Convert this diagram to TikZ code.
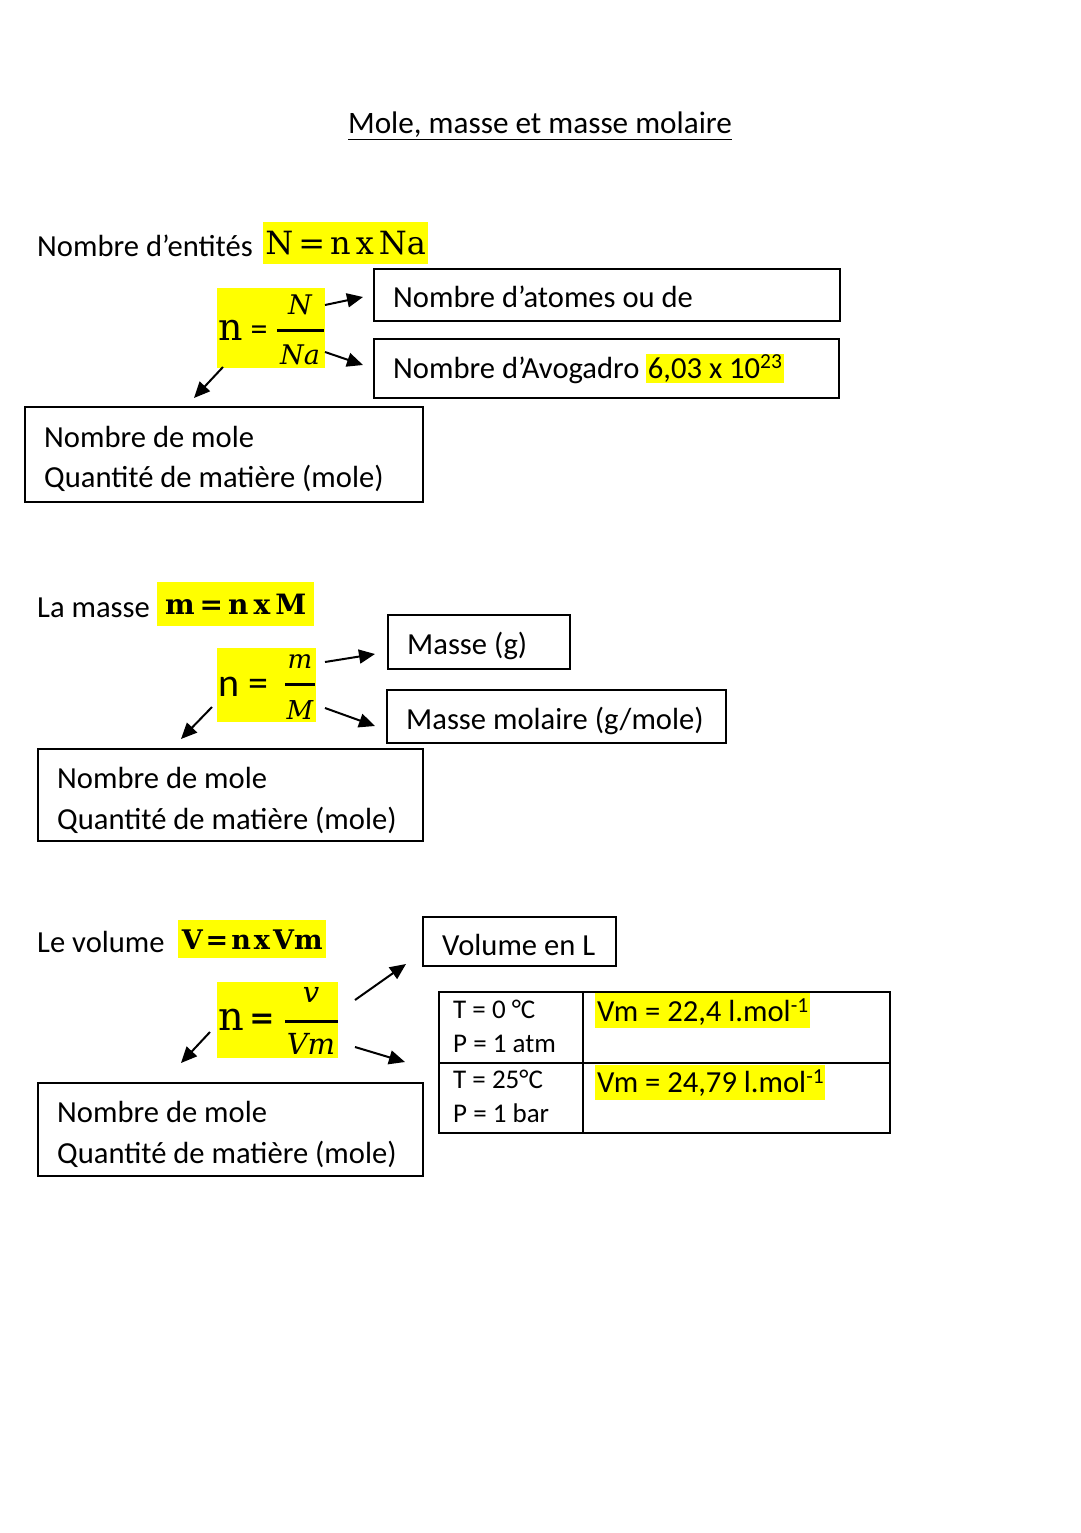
\documentclass[tikz,border=0pt]{standalone}
\usepackage{fontspec}
\setmainfont{Carlito}
\newfontfamily\fml{DejaVu Serif}
\usetikzlibrary{arrows.meta}
\definecolor{hly}{HTML}{FFFF00}
\tikzset{
  txt/.style={font=\fontsize{30.6}{40}\selectfont, inner sep=0pt, align=left},
  tbl/.style={font=\fontsize{27}{34}\selectfont, inner sep=0pt, align=left},
  boxed/.style={draw, line width=2pt, anchor=north west, inner sep=0pt},
  hlbox/.style={fill=hly, inner sep=0pt, anchor=north west},
  cell/.style={draw, line width=2pt, anchor=north west, inner sep=0pt},
  arr/.style={line width=2pt, -{Triangle[length=16pt,width=14pt]}},
  frm/.style={inner sep=0pt},
}
\begin{document}
\begin{tikzpicture}[x=1pt,y=-1pt]
\useasboundingbox (0,0) rectangle (1080,1533);

% title
\node[txt, font=\fontsize{31.2}{38}\selectfont] (title) at (540,126) {\underline{Mole, masse et masse molaire}};

%%%%%%%% Section 1
\node[txt, anchor=base west] (l1) at (37,256) {Nombre d’entités};
\node[hlbox, minimum width=165pt, minimum height=42pt] (h1) at (263,222) {};
\node[frm, font=\fml\fontsize{32}{32}\selectfont] (h1t) at (h1.center) {N\hspace{5pt}=\hspace{5pt}n\hspace{5pt}x\hspace{5pt}Na};

\node[hlbox, minimum width=108pt, minimum height=80pt] (f1) at (217,288) {};
\node[frm, anchor=west, font=\fml\fontsize{38}{38}\selectfont] (f1n) at (218,330) {n};
\node[frm, font=\fontsize{34}{34}\selectfont] (f1e) at (259,333) {=};
\node[frm, font=\fml\itshape\fontsize{27}{27}\selectfont] (f1a) at (300,305) {N};
\node[frm, font=\fml\itshape\fontsize{27}{27}\selectfont] (f1b) at (300,355) {Na};
\draw[line width=3pt] (277,330) -- (324,330);

\node[boxed, minimum width=466pt, minimum height=52pt] (b1) at (373,268) {};
\node[txt, anchor=west] (b1t) at ([xshift=20pt,yshift=-2pt]b1.west) {Nombre d’atomes ou de};
\node[boxed, minimum width=465pt, minimum height=59pt] (b2) at (373,338) {};
\node[txt, anchor=west] (b2t) at ([xshift=20pt]b2.west)
  {Nombre d’Avogadro {\setlength\fboxsep{1.5pt}\colorbox{hly}{6,03 x 10\textsuperscript{23}}}};
\node[boxed, minimum width=398pt, minimum height=95pt] (b3) at (24,406) {};
\node[txt, anchor=west] (b3t) at ([xshift=20pt,yshift=-4pt]b3.west) {Nombre de mole\\Quantité de matière (mole)};

\coordinate (a1s) at (325,305); \coordinate (a1e) at (363,297);
\coordinate (a2s) at (325,352); \coordinate (a2e) at (363,365);
\coordinate (a3s) at (223,367); \coordinate (a3e) at (194,398);
\draw[arr] (a1s) -- (a1e);
\draw[arr] (a2s) -- (a2e);
\draw[arr] (a3s) -- (a3e);

%%%%%%%% Section 2
\node[txt, anchor=base west] (l2) at (37,617) {La masse};
\node[hlbox, minimum width=157pt, minimum height=44pt] (h2) at (157,582) {};
\node[frm, font=\fml\bfseries\fontsize{28}{28}\selectfont] (h2t) at (h2.center) {m\hspace{5pt}=\hspace{5pt}n\hspace{5pt}x\hspace{5pt}M};

\node[hlbox, minimum width=99pt, minimum height=74pt] (f2) at (217,648) {};
\node[frm, anchor=west, font=\fontsize{40}{40}\selectfont] (f2n) at (218,687) {n =};
\node[frm, font=\fml\itshape\fontsize{26}{26}\selectfont] (f2a) at (300,662) {m};
\node[frm, font=\fml\itshape\fontsize{26}{26}\selectfont] (f2b) at (300,710) {M};
\draw[line width=3pt] (285,684) -- (315,684);

\node[boxed, minimum width=182pt, minimum height=54pt] (b4) at (387,614) {};
\node[txt, anchor=west] (b4t) at ([xshift=20pt,yshift=-4pt]b4.west) {Masse (g)};
\node[boxed, minimum width=339pt, minimum height=53pt] (b5) at (386,689) {};
\node[txt, anchor=west] (b5t) at ([xshift=20pt,yshift=-4pt]b5.west) {Masse molaire (g/mole)};
\node[boxed, minimum width=385pt, minimum height=92pt] (b6) at (37,748) {};
\node[txt, anchor=west, font=\fontsize{30.6}{41}\selectfont] (b6t) at ([xshift=20pt,yshift=-5pt]b6.west) {Nombre de mole\\Quantité de matière (mole)};

\coordinate (a4s) at (325,662); \coordinate (a4e) at (375,654);
\coordinate (a5s) at (325,708); \coordinate (a5e) at (375,726);
\coordinate (a6s) at (212,707); \coordinate (a6e) at (181,739);
\draw[arr] (a4s) -- (a4e);
\draw[arr] (a5s) -- (a5e);
\draw[arr] (a6s) -- (a6e);

%%%%%%%% Section 3
\node[txt, anchor=base west] (l3) at (37,952) {Le volume};
\node[hlbox, minimum width=148pt, minimum height=38pt] (h3) at (178,920) {};
\node[frm, font=\fml\bfseries\fontsize{27}{27}\selectfont] (h3t) at (h3.center) {V\hspace{3pt}=\hspace{3pt}n\hspace{3pt}x\hspace{3pt}Vm};

\node[hlbox, minimum width=121pt, minimum height=76pt] (f3) at (217,982) {};
\node[frm, anchor=west, font=\fml\fontsize{40}{40}\selectfont] (f3n) at (218,1020) {n};
\node[frm, font=\fml\bfseries\fontsize{30}{30}\selectfont] (f3e) at (262,1021) {=};
\node[frm, font=\fml\itshape\fontsize{29}{29}\selectfont] (f3a) at (311,995) {v};
\node[frm, font=\fml\itshape\fontsize{29}{29}\selectfont] (f3b) at (311,1044) {Vm};
\draw[line width=3pt] (285,1021) -- (338,1021);

\node[boxed, minimum width=193pt, minimum height=49pt] (b7) at (422,916) {};
\node[txt, anchor=west] (b7t) at ([xshift=20pt,yshift=-3pt]b7.west) {Volume en L};

\node[cell, minimum width=144pt, minimum height=71pt] (c11) at (438,991) {};
\node[cell, minimum width=307pt, minimum height=71pt] (c12) at (582,991) {};
\node[cell, minimum width=144pt, minimum height=70pt] (c21) at (438,1062) {};
\node[cell, minimum width=307pt, minimum height=70pt] (c22) at (582,1062) {};
\node[tbl, anchor=north west] (c11t) at (453,1000) {T = 0 °C\\P = 1 atm};
\node[tbl, anchor=north west] (c21t) at (453,1070) {T = 25°C\\P = 1 bar};
\node[hlbox, minimum width=215pt, minimum height=35pt] (v1h) at (595,993) {};
\node[txt, anchor=west] (v1t) at (597,1012) {Vm = 22,4 l.mol\textsuperscript{-1}};
\node[hlbox, minimum width=230pt, minimum height=35pt] (v2h) at (595,1065) {};
\node[txt, anchor=west] (v2t) at (597,1083) {Vm = 24,79 l.mol\textsuperscript{-1}};

\node[boxed, minimum width=385pt, minimum height=93pt] (b8) at (37,1082) {};
\node[txt, anchor=west, font=\fontsize{30.6}{41}\selectfont] (b8t) at ([xshift=20pt,yshift=-5pt]b8.west) {Nombre de mole\\Quantité de matière (mole)};

\coordinate (a7s) at (355,1000); \coordinate (a7e) at (406,964);
\coordinate (a8s) at (355,1047); \coordinate (a8e) at (405,1062);
\coordinate (a9s) at (210,1032); \coordinate (a9e) at (181,1063);
\draw[arr] (a7s) -- (a7e);
\draw[arr] (a8s) -- (a8e);
\draw[arr] (a9s) -- (a9e);
\end{tikzpicture}
\end{document}
